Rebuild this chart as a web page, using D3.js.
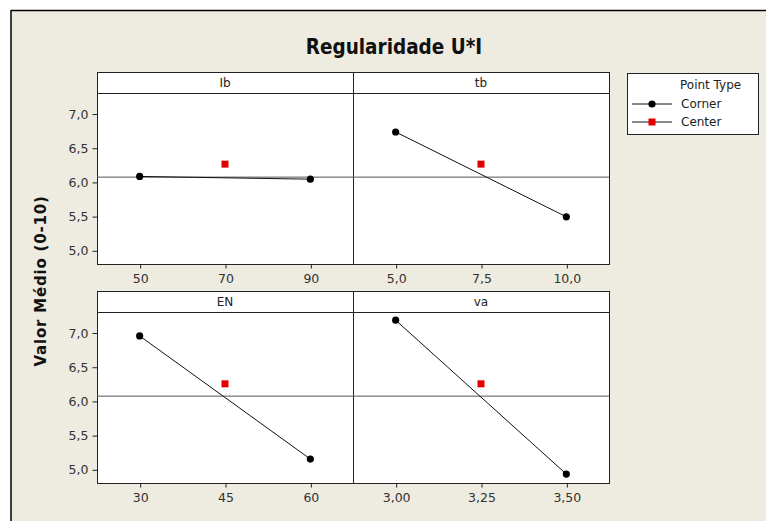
<!DOCTYPE html>
<html>
<head>
<meta charset="utf-8">
<script src="https://cdn.jsdelivr.net/npm/d3@7"></script>
<style>
body { margin: 0; background: #fff; }
svg { display: block; }
</style>
</head>
<body>
<svg width="766" height="521"></svg>
<script>
var svg = d3.select("svg");

var width = +svg.attr("width");
var height = +svg.attr("height");

// factors and their levels (low, center, high)
var factors = ["Ib", "tb", "EN", "va"];
var levels = [[50, 70, 90], [5.0, 7.5, 10.0], [30, 45, 60], [3.00, 3.25, 3.50]];
var tickFormats = [",.0f", ",.1f", ",.0f", ",.2f"];
// mean response at corner points (low, high) and at the center point
var cornerMeans = [[6.08, 6.04], [6.73, 5.49], [6.95, 5.15], [7.18, 4.93]];
var centerMeans = [6.26, 6.26, 6.25, 6.25];
var grandMean = 6.07;
var yTicks = [5.0, 5.5, 6.0, 6.5, 7.0];

var bg = "#eeebe0";
var commaFmt = function (f) {
    var base = d3.format(f);
    return function (v) { return base(v).replace(".", ","); };
};

// background frame
svg.append("rect").attr("x", 11).attr("y", 10).attr("width", width - 11).attr("height", height - 10)
    .attr("fill", bg);
svg.append("line").attr("x1", 11).attr("x2", width).attr("y1", 10.5).attr("y2", 10.5)
    .attr("stroke", "#000").attr("stroke-width", 1.5);
svg.append("line").attr("x1", 11).attr("x2", 11).attr("y1", 10).attr("y2", height)
    .attr("stroke", "#000").attr("stroke-width", 1.5);

svg.append("text")
    .attr("x", 394).attr("y", 54)
    .attr("text-anchor", "middle")
    .style("font-family", "'DejaVu Sans Condensed', 'DejaVu Sans', sans-serif")
    .style("font-weight", "bold")
    .style("font-size", "20.5px")
    .attr("fill", "#111")
    .text("Regularidade U*I");

svg.append("text")
    .attr("transform", "translate(46,281) rotate(-90)")
    .attr("text-anchor", "middle")
    .style("font-family", "'DejaVu Sans', sans-serif")
    .style("font-weight", "bold")
    .style("font-size", "15px")
    .style("letter-spacing", "0.8px")
    .attr("fill", "#111")
    .text("Valor Médio (0-10)");

var cols = [97, 353];
var rows = [72, 291];
var panelW = 256, stripH = 21, plotH = 171;

var y = d3.scaleLinear().domain([4.8, 7.3]).range([plotH, 0]);

factors.forEach(function (name, i) {
    var px = cols[i % 2], py = rows[Math.floor(i / 2)];
    var g = svg.append("g").attr("transform", "translate(" + px + "," + (py + stripH) + ")");
    var lv = levels[i];
    var span = lv[2] - lv[0];
    var x = d3.scaleLinear().domain([lv[0] - 0.25 * span, lv[2] + 0.25 * span]).range([0, panelW]);

    // strip
    svg.append("rect").attr("x", px + 0.5).attr("y", py + 0.5).attr("width", panelW).attr("height", stripH)
        .attr("fill", "#fff").attr("stroke", "#222");
    svg.append("text").attr("x", px + panelW / 2).attr("y", py + 15)
        .attr("text-anchor", "middle")
        .style("font-family", "'DejaVu Sans', sans-serif").style("font-size", "12px")
        .attr("fill", "#222").text(name);

    g.append("rect").attr("x", 0.5).attr("y", 0.5).attr("width", panelW).attr("height", plotH)
        .attr("fill", "#fff").attr("stroke", "#222");

    // x axis
    var xa = g.append("g").attr("transform", "translate(0.5," + (plotH + 0.5) + ")")
        .call(d3.axisBottom(x).tickValues(lv).tickSize(4).tickPadding(6).tickFormat(commaFmt(tickFormats[i])));
    xa.select(".domain").remove();
    xa.selectAll("line").attr("stroke", "#222");
    xa.selectAll("text").style("font-family", "'DejaVu Sans', sans-serif").style("font-size", "12.5px").attr("fill", "#333");

    if (i % 2 === 0) {
        var ya = g.append("g").attr("transform", "translate(0.5,0.5)")
            .call(d3.axisLeft(y).tickValues(yTicks).tickSize(5).tickPadding(4).tickFormat(commaFmt(".1f")));
        ya.select(".domain").remove();
        ya.selectAll("line").attr("stroke", "#222");
        ya.selectAll("text").style("font-family", "'DejaVu Sans', sans-serif").style("font-size", "12.5px").attr("fill", "#333");
    }

    // grand mean reference line
    g.append("line").attr("x1", 0).attr("x2", panelW).attr("y1", y(grandMean)).attr("y2", y(grandMean))
        .attr("stroke", "#555").attr("stroke-width", 1);

    var pts = [[lv[0], cornerMeans[i][0]], [lv[2], cornerMeans[i][1]]];
    g.append("path").datum(pts)
        .attr("d", d3.line().x(function (d) { return x(d[0]); }).y(function (d) { return y(d[1]); }))
        .attr("fill", "none").attr("stroke", "#111").attr("stroke-width", 1);
    g.selectAll("circle.corner").data(pts).enter().append("circle")
        .attr("class", "corner")
        .attr("cx", function (d) { return x(d[0]); })
        .attr("cy", function (d) { return y(d[1]); })
        .attr("r", 3.6).attr("fill", "#000");
    g.append("rect")
        .attr("x", x(lv[1]) - 3.5).attr("y", y(centerMeans[i]) - 3.5)
        .attr("width", 7).attr("height", 7).attr("fill", "#e00000");
});

// legend
var lg = svg.append("g").attr("transform", "translate(627,73)");
lg.append("rect").attr("x", 0.5).attr("y", 0.5).attr("width", 131).attr("height", 61)
    .attr("fill", "#fff").attr("stroke", "#222");
lg.append("text").attr("x", 53).attr("y", 16)
    .style("font-family", "'DejaVu Sans', sans-serif").style("font-size", "12px").attr("fill", "#222")
    .text("Point Type");
var legItems = ["Corner", "Center"];
legItems.forEach(function (t, k) {
    var ly = 31 + k * 18;
    lg.append("line").attr("x1", 5).attr("x2", 45).attr("y1", ly).attr("y2", ly).attr("stroke", "#111");
    if (k === 0) lg.append("circle").attr("cx", 25).attr("cy", ly).attr("r", 3.6).attr("fill", "#000");
    else lg.append("rect").attr("x", 21.5).attr("y", ly - 3.5).attr("width", 7).attr("height", 7).attr("fill", "#e00000");
    lg.append("text").attr("x", 54).attr("y", ly + 4)
        .style("font-family", "'DejaVu Sans', sans-serif").style("font-size", "12px").attr("fill", "#222")
        .text(t);
});
</script>
</body>
</html>
